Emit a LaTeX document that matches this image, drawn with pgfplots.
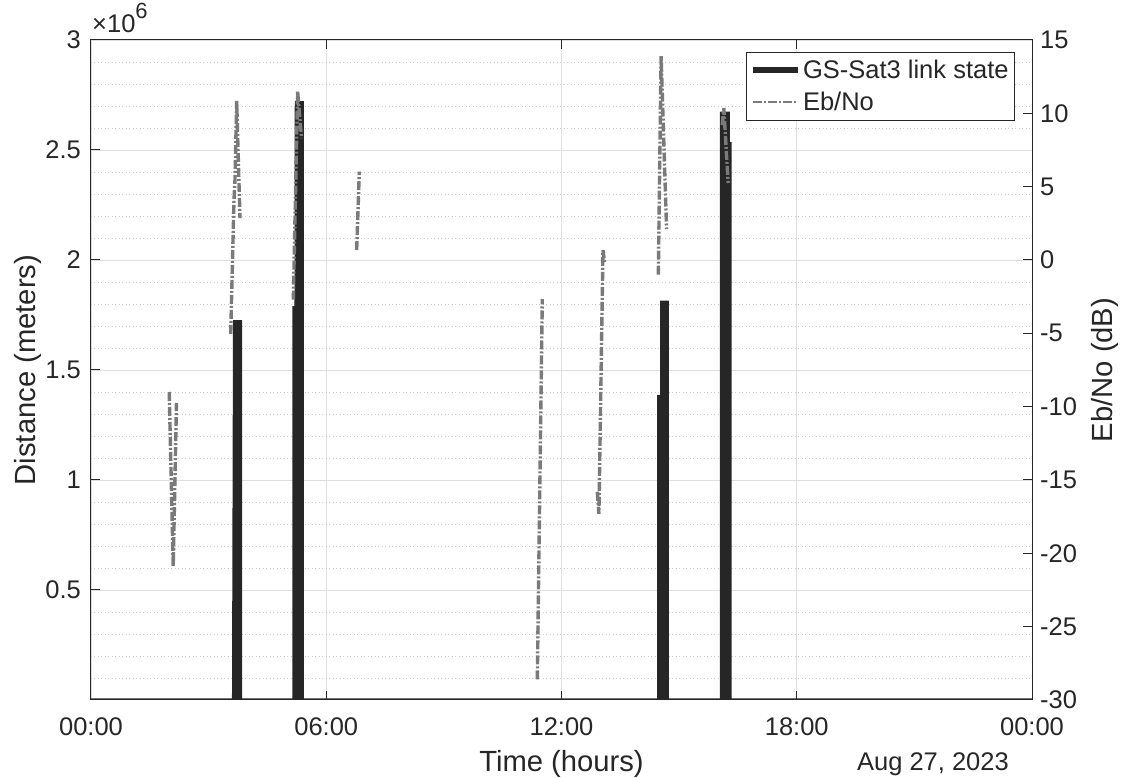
\documentclass[border=0pt]{standalone}
\usepackage{fontspec}
\setmainfont{Liberation Sans}
\usepackage{pgfplots}
\pgfplotsset{compat=1.18}
\definecolor{ax}{HTML}{262626}
\definecolor{gmaj}{HTML}{DFDFDF}
\definecolor{gmin}{HTML}{CCCCCC}
\definecolor{ebc}{HTML}{7A7A7A}
\newcommand{\tickfont}{\fontsize{25.5}{30}\selectfont}
\newcommand{\labfont}{\fontsize{29.2}{34}\selectfont}
\tikzset{ebline/.style={ebc, line width=3.4pt, dash pattern=on 9pt off 2pt on 2pt off 2pt}}
\begin{document}
\begin{tikzpicture}
\begin{axis}[
  width=941pt, height=660pt, scale only axis,
  xmin=0, xmax=24, ymin=0, ymax=3,
  xtick={0,6,12,18,24}, xticklabels={00:00,06:00,12:00,18:00,00:00},
  ytick={0.5,1,1.5,2,2.5,3}, yticklabels={0.5,1,1.5,2,2.5,3},
  minor ytick={0.1,0.2,0.3,0.4,0.6,0.7,0.8,0.9,1.1,1.2,1.3,1.4,1.6,1.7,1.8,1.9,2.1,2.2,2.3,2.4,2.6,2.7,2.8,2.9},
  xmajorgrids, ymajorgrids, yminorgrids,
  major grid style={gmaj, line width=0.8pt},
  minor grid style={gmin, line width=0.8pt, dash pattern=on 1pt off 2.5pt},
  tick align=inside, major tick length=9pt, minor tick length=0pt,
  ytick pos=left,
  axis line style={ax, line width=1pt},
  tick style={ax, line width=1pt},
  ticklabel style={font=\tickfont, text=ax},
  xticklabel style={anchor=base, inner sep=0pt, yshift=-36pt},
  yticklabel style={anchor=east, inner sep=0pt, xshift=-10pt},
  xlabel={Time (hours)},
  xlabel style={font=\labfont, text=ax, at={(axis description cs:0.5,-0.1076)}, anchor=base, inner sep=0pt},
  ylabel={Distance (meters)},
  ylabel style={font=\labfont, text=ax, at={(axis description cs:-0.067,0.5)}, anchor=center, inner sep=0pt},
]
\addplot[draw=ax, fill=ax, line width=3pt] coordinates {
 (0,0) (3.634,0) (3.66,1.72) (3.813,1.72) (3.813,0)
 (5.176,0) (5.176,1.784) (5.228,1.784) (5.235,2.715) (5.393,2.715) (5.393,0)
 (14.479,0) (14.479,1.380) (14.555,1.380) (14.555,1.809) (14.703,1.809) (14.703,0)
 (16.08,0) (16.08,2.668) (16.254,2.668) (16.254,2.530) (16.30,2.530) (16.30,0)
 (24,0)};
\end{axis}
\begin{axis}[
  width=941pt, height=660pt, scale only axis,
  xmin=0, xmax=24, ymin=-30, ymax=15,
  hide x axis, axis y line*=right,
  ytick={-30,-25,-20,-15,-10,-5,0,5,10,15},
  yticklabels={-30,-25,-20,-15,-10,-5,0,5,10,15},
  tick align=inside, major tick length=9pt,
  ytick pos=right,
  axis line style={ax, line width=1pt},
  tick style={ax, line width=1pt},
  ticklabel style={font=\tickfont, text=ax},
  yticklabel style={anchor=west, inner sep=0pt, xshift=8pt},
  ylabel={Eb/No (dB)},
  ylabel style={font=\labfont, text=ax, at={(axis description cs:1.0776,0.5)}, anchor=center, inner sep=0pt, rotate=0},
  legend style={at={(0.982,0.982)}, anchor=north east, draw=ax, line width=1pt, fill=white,
    font=\tickfont, text=ax, inner xsep=4pt, inner ysep=7pt, row sep=10pt, cells={anchor=west},
    nodes={inner xsep=2pt, inner ysep=1pt}},
  legend image code/.code={\draw[#1] (0pt,0pt) -- (45pt,0pt);},
]
\addlegendimage{draw=ax, line width=6pt}
\addlegendentry{GS-Sat3 link state}
\addlegendimage{ebline, line width=2.2pt}
\addlegendentry{Eb/No}
\addplot[ebline, forget plot] coordinates {(1.995,-9.0) (2.097,-20.9) (2.18,-9.75)};
\addplot[ebline, forget plot] coordinates {(3.563,-5.04) (3.647,4.09) (3.672,5.45) (3.716,10.84) (3.75,7.5) (3.80,2.86)};
\addplot[ebline, forget plot] coordinates {(5.16,-2.7) (5.27,11.5) (5.37,8.3)};
\addplot[ebline, forget plot] coordinates {(6.776,0.68) (6.843,6.02)};
\addplot[ebline, forget plot] coordinates {(11.383,-28.6) (11.51,-2.66)};
\addplot[ebline, forget plot] coordinates {(12.913,-15.8) (12.954,-17.3) (13.058,0.68) (13.096,-0.14)};
\addplot[ebline, forget plot] coordinates {(14.47,-1.0) (14.54,13.9) (14.68,2.1)};
\addplot[ebline, forget plot] coordinates {(16.10,9.2) (16.14,10.36) (16.25,5.25)};
\end{axis}
\node[anchor=base east, font=\tickfont, text=ax, inner sep=0pt] at (918pt,-71pt) {Aug 27, 2023};
\node[anchor=base west, font=\tickfont, text=ax, inner sep=0pt] at (1pt,667pt) {×10\raisebox{14pt}{\fontsize{22}{22}\selectfont 6}};
\pgfresetboundingbox
\path[use as bounding box] (-91pt,-78pt) rectangle (1031pt,700pt);
\end{tikzpicture}
\end{document}
